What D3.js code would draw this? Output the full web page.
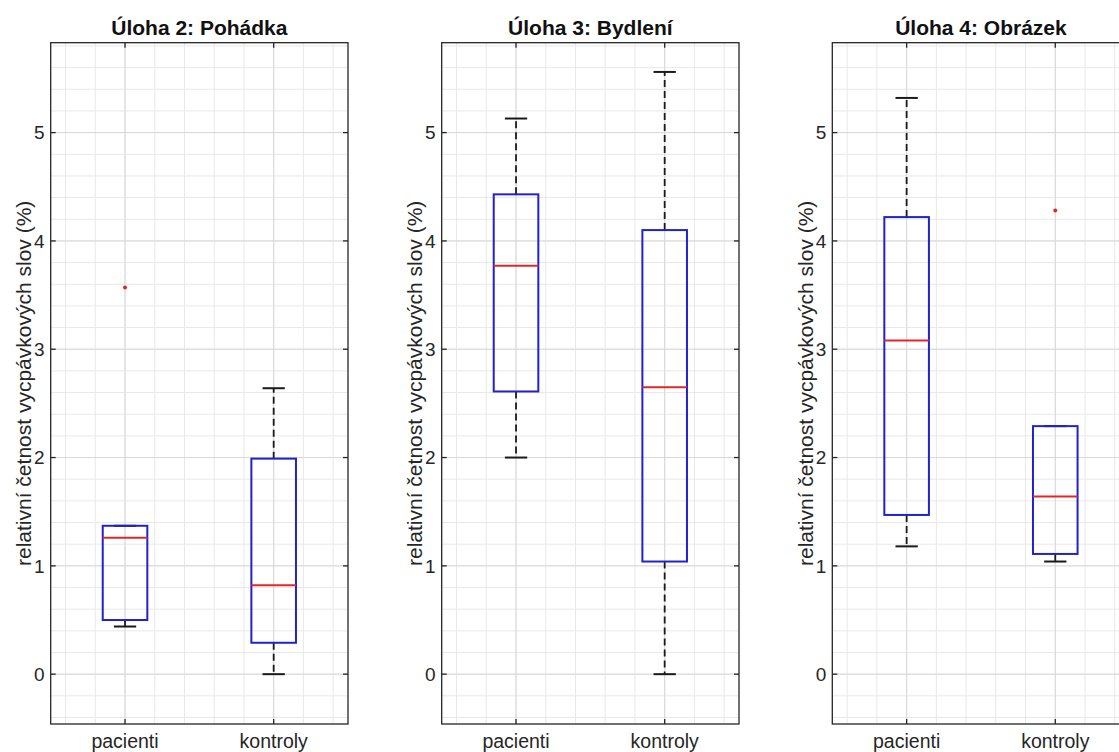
<!DOCTYPE html>
<html><head><meta charset="utf-8">
<script src="https://cdn.jsdelivr.net/npm/d3@7"></script>
<style>body{margin:0;background:#fff;} svg{display:block;}</style>
</head><body>
<svg id="c" width="1119" height="752"></svg>
<script>
const tasks = ["Úloha 2: Pohádka", "Úloha 3: Bydlení", "Úloha 4: Obrázek"];
const groups = ["pacienti", "kontroly"];
// per task: [pacienti, kontroly]
const whiskerLow  = [[0.44, 0.00], [2.00, 0.00], [1.18, 1.04]];
const q1          = [[0.50, 0.29], [2.61, 1.04], [1.47, 1.11]];
const median      = [[1.26, 0.82], [3.77, 2.65], [3.08, 1.64]];
const q3          = [[1.37, 1.99], [4.43, 4.10], [4.22, 2.29]];
const whiskerHigh = [[1.37, 2.64], [5.13, 5.56], [5.32, 2.29]];
const outliers    = [[[3.57], []], [[], []], [[], [4.28]]];
const yTicks = [0, 1, 2, 3, 4, 5];
const yLabel = "relativní četnost vycpávkových slov (%)";

const svg = d3.select("#c");
const panelLeft = [50.7, 441.7, 832.3];
const panelW = 297.3, plotTop = 42.7, plotBottom = 724;
const font = "'Liberation Sans', Arial, Helvetica, sans-serif";
const axisColor = "#262626";

tasks.forEach((t, i) => {
  const x0 = panelLeft[i];
  const x = d3.scaleLinear().domain([0.5, 2.5]).range([x0, x0 + panelW]);
  const y = d3.scaleLinear().domain([-0.46, 5.83]).range([plotBottom, plotTop]);
  const g = svg.append("g");

  const minorY = d3.range(-0.4, 5.81, 0.2).map(v => +v.toFixed(2));
  const minorX = d3.range(0.6, 2.41, 0.2).map(v => +v.toFixed(2));
  g.selectAll(".mgy").data(minorY).join("line")
    .attr("x1", x0).attr("x2", x0 + panelW)
    .attr("y1", d => y(d)).attr("y2", d => y(d))
    .attr("stroke", "#e8e8e8").attr("stroke-width", 1);
  g.selectAll(".mgx").data(minorX).join("line")
    .attr("y1", plotTop).attr("y2", plotBottom)
    .attr("x1", d => x(d)).attr("x2", d => x(d))
    .attr("stroke", "#e8e8e8").attr("stroke-width", 1);
  g.selectAll(".gy").data(yTicks).join("line")
    .attr("x1", x0).attr("x2", x0 + panelW)
    .attr("y1", d => y(d)).attr("y2", d => y(d))
    .attr("stroke", "#d8d8d8").attr("stroke-width", 1);
  g.selectAll(".gx").data([1, 2]).join("line")
    .attr("y1", plotTop).attr("y2", plotBottom)
    .attr("x1", d => x(d)).attr("x2", d => x(d))
    .attr("stroke", "#d8d8d8").attr("stroke-width", 1);

  groups.forEach((grp, j) => {
    const cx = x(j + 1);
    const bw = x(1.15) - x(1);
    const cw = x(1.075) - x(1);
    const dash = "7,4";
    if (whiskerHigh[i][j] > q3[i][j])
      g.append("line").attr("x1", cx).attr("x2", cx)
        .attr("y1", y(q3[i][j])).attr("y2", y(whiskerHigh[i][j]))
        .attr("stroke", "#1a1a1a").attr("stroke-width", 1.8).attr("stroke-dasharray", dash);
    if (whiskerLow[i][j] < q1[i][j])
      g.append("line").attr("x1", cx).attr("x2", cx)
        .attr("y1", y(q1[i][j])).attr("y2", y(whiskerLow[i][j]))
        .attr("stroke", "#1a1a1a").attr("stroke-width", 1.8).attr("stroke-dasharray", dash);
    [whiskerHigh[i][j], whiskerLow[i][j]].forEach(v => {
      g.append("line").attr("x1", cx - cw).attr("x2", cx + cw)
        .attr("y1", y(v)).attr("y2", y(v))
        .attr("stroke", "#1a1a1a").attr("stroke-width", 2);
    });
    g.append("rect").attr("x", cx - bw).attr("width", 2 * bw)
      .attr("y", y(q3[i][j])).attr("height", y(q1[i][j]) - y(q3[i][j]))
      .attr("fill", "none").attr("stroke", "#2222cc").attr("stroke-width", 2);
    g.append("line").attr("x1", cx - bw).attr("x2", cx + bw)
      .attr("y1", y(median[i][j])).attr("y2", y(median[i][j]))
      .attr("stroke", "#e02828").attr("stroke-width", 2);
    outliers[i][j].forEach(v => {
      g.append("circle").attr("cx", cx).attr("cy", y(v)).attr("r", 2)
        .attr("fill", "#e02828");
    });
  });

  g.append("rect").attr("x", x0).attr("y", plotTop).attr("width", panelW).attr("height", plotBottom - plotTop)
    .attr("fill", "none").attr("stroke", axisColor).attr("stroke-width", 1.3);
  const tl = 5;
  yTicks.forEach(v => {
    g.append("line").attr("x1", x0).attr("x2", x0 + tl).attr("y1", y(v)).attr("y2", y(v))
      .attr("stroke", axisColor).attr("stroke-width", 1.3);
    g.append("line").attr("x1", x0 + panelW).attr("x2", x0 + panelW - tl).attr("y1", y(v)).attr("y2", y(v))
      .attr("stroke", axisColor).attr("stroke-width", 1.3);
    g.append("text").attr("x", x0 - 6).attr("y", y(v)).attr("dy", "0.35em")
      .attr("text-anchor", "end").attr("font-family", font).attr("font-size", 19)
      .attr("fill", axisColor).text(v);
  });
  groups.forEach((grp, j) => {
    const cx = x(j + 1);
    g.append("line").attr("x1", cx).attr("x2", cx).attr("y1", plotBottom).attr("y2", plotBottom - tl)
      .attr("stroke", axisColor).attr("stroke-width", 1.3);
    g.append("line").attr("x1", cx).attr("x2", cx).attr("y1", plotTop).attr("y2", plotTop + tl)
      .attr("stroke", axisColor).attr("stroke-width", 1.3);
    g.append("text").attr("x", cx).attr("y", 748)
      .attr("text-anchor", "middle").attr("font-family", font).attr("font-size", 19.5)
      .attr("fill", axisColor).text(grp);
  });
  g.append("text").attr("x", x0 + panelW / 2).attr("y", 35)
    .attr("text-anchor", "middle").attr("font-family", font).attr("font-size", 21)
    .attr("font-weight", "bold").attr("fill", "#111").text(t);
  g.append("text").attr("transform", `translate(${x0 - 27},${(plotTop + plotBottom) / 2}) rotate(-90)`)
    .attr("dy", "0.35em").attr("text-anchor", "middle").attr("font-family", font)
    .attr("font-size", 21).attr("fill", axisColor).text(yLabel);
});
</script>
</body></html>
